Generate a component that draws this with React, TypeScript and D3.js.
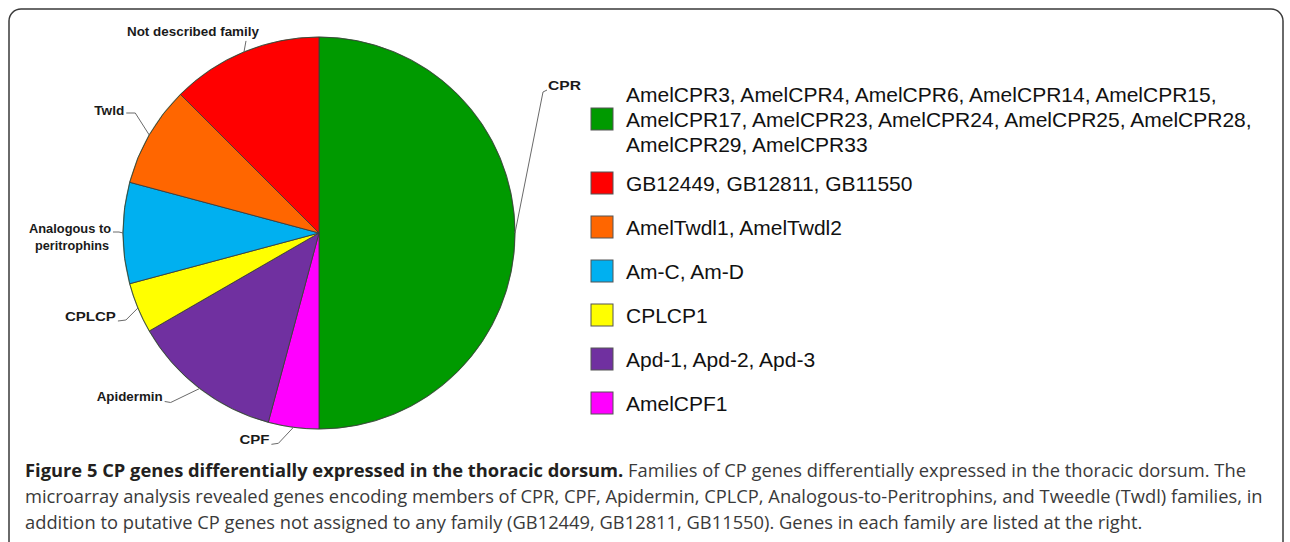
import React, { useLayoutEffect, useRef, useState } from "react";
import * as d3 from "d3";

// ---- data ----
const pieFamilies = ["CPR", "CPF", "Apidermin", "CPLCP", "Analogous to peritrophins", "Twld", "Not described family"];
const pieCounts = [12, 1, 3, 1, 2, 2, 3];
const pieColors = ["#009a00", "#ff00ff", "#7030a0", "#ffff00", "#00b0f0", "#ff6600", "#ff0000"];

const legendGenes = [
  ["AmelCPR3, AmelCPR4, AmelCPR6, AmelCPR14, AmelCPR15,", "AmelCPR17, AmelCPR23, AmelCPR24, AmelCPR25, AmelCPR28,", "AmelCPR29, AmelCPR33"],
  ["GB12449, GB12811, GB11550"],
  ["AmelTwdl1, AmelTwdl2"],
  ["Am-C, Am-D"],
  ["CPLCP1"],
  ["Apd-1, Apd-2, Apd-3"],
  ["AmelCPF1"],
];
const legendColors = ["#009a00", "#ff0000", "#ff6600", "#00b0f0", "#ffff00", "#7030a0", "#ff00ff"];

const captionBold = "Figure 5 CP genes differentially expressed in the thoracic dorsum.";
const captionLines = [
  " Families of CP genes differentially expressed in the thoracic dorsum. The",
  "microarray analysis revealed genes encoding members of CPR, CPF, Apidermin, CPLCP, Analogous-to-Peritrophins, and Tweedle (Twdl) families, in",
  "addition to putative CP genes not assigned to any family (GB12449, GB12811, GB11550). Genes in each family are listed at the right.",
];

// ---- layout (not data) ----
const W = 1290, H = 542;
const cx = 319, cy = 233, R = 196;
const labelLayout: Record<string, any> = {
  "CPR": { elbow: [28, -141], tick: [32, -143], text: [33, -143], anchor: "start", w: 33 },
  "Not described family": { elbow: [2, -11], tick: [2, -11], text: [-51, -16], anchor: "middle", w: 132 },
  "Twld": { elbow: [-14, -22], tick: [-23, -22], text: [-25, -20], anchor: "end", w: 30 },
  "Analogous to peritrophins": { elbow: [-4, -1], tick: [-10, -1], text: [-12, 0], anchor: "end", w: 82 },
  "CPLCP": { elbow: [-12, 12], tick: [-20, 13], text: [-22, 13], anchor: "end", w: 51 },
  "Apidermin": { elbow: [-29, 14], tick: [-35, 13], text: [-37, 13], anchor: "end", w: 66 },
  "CPF": { elbow: [-15, 16], tick: [-22, 17], text: [-24, 17], anchor: "end", w: 30 },
};
const labelLines: Record<string, string[]> = {
  "Analogous to peritrophins": ["Analogous to", "peritrophins"],
};

const capFont = "'Open Sans', 'Noto Sans', sans-serif";
const capX = 25, capLine2Width = 1238;

export default function App() {
  const measureRef = useRef<SVGTextElement>(null);
  const [k, setK] = useState(1);
  useLayoutEffect(() => {
    if (measureRef.current) {
      const len = measureRef.current.getComputedTextLength();
      if (len > 0) setK(capLine2Width / len);
    }
  }, []);

  const pie = d3.pie<number>().sort(null).value((d) => d);
  const arcs = pie(pieCounts);
  const arcGen = d3.arc<d3.PieArcDatum<number>>().innerRadius(0).outerRadius(R);

  const legendX = 591, boxSize = 22, textX = 626;
  const entryY = d3.scaleLinear().domain([1, 6]).range([183, 403]);
  const lineH = 25;
  const capY = [477, 503, 529];

  return (
    <svg width={W} height={H} style={{ position: "absolute", left: 0, top: 0, background: "#fff" }}>
      <rect x={9} y={9} width={1274} height={580} rx={12} ry={12} fill="none" stroke="#3a3a3a" strokeWidth={1.5} />
      <g transform={`translate(${cx},${cy})`}>
        {arcs.map((a, i) => (
          <path key={i} d={arcGen(a) || ""} fill={pieColors[i]} stroke="#3d3d3d" strokeWidth={0.9} />
        ))}
        <circle r={R} fill="none" stroke="#2a5a2a" strokeOpacity={0.35} strokeWidth={1.2} />
      </g>
      {arcs.map((a, i) => {
        const name = pieFamilies[i];
        const L = labelLayout[name];
        const mid = (a.startAngle + a.endAngle) / 2;
        const ax = cx + R * Math.sin(mid);
        const ay = cy - R * Math.cos(mid);
        const pts = [
          [ax, ay],
          [ax + L.elbow[0], ay + L.elbow[1]],
          [ax + L.tick[0], ay + L.tick[1]],
        ];
        const lines = labelLines[name] || [name];
        return (
          <g key={name}>
            <polyline points={pts.map((p) => p.join(",")).join(" ")} fill="none" stroke="#6a6a6a" strokeWidth={1} />
            {lines.map((ln, j) => (
              <text
                key={j}
                x={ax + L.text[0] - (j > 0 ? 2 : 0)}
                y={ay + L.text[1] + j * 17}
                textAnchor={L.anchor}
                fontFamily="'Liberation Sans', Arial, sans-serif"
                fontWeight="bold"
                fontSize={13}
                fill="#1a1a1a"
                textLength={j > 0 ? 74 : L.w}
                lengthAdjust="spacingAndGlyphs"
              >
                {ln}
              </text>
            ))}
          </g>
        );
      })}
      {legendGenes.map((lines, i) => {
        const cyE = i === 0 ? 119 : entryY(i);
        const firstBase = cyE + 8 - ((lines.length - 1) * lineH) / 2;
        return (
          <g key={i}>
            <rect x={legendX} y={cyE - boxSize / 2} width={boxSize} height={boxSize} fill={legendColors[i]} stroke="#555" strokeWidth={1} />
            {lines.map((ln, j) => (
              <text key={j} x={textX} y={firstBase + j * lineH} fontFamily="'Liberation Sans', Arial, sans-serif" fontSize={21} fill="#111">
                {ln}
              </text>
            ))}
          </g>
        );
      })}
      <g transform={`translate(${capX},0) scale(${k},1)`}>
        <text x={0} y={capY[0]} fontFamily={capFont} fontSize={18} fill="#3a3a3a">
          <tspan fontWeight="bold" fill="#231f20">{captionBold}</tspan>
          <tspan>{captionLines[0]}</tspan>
        </text>
        <text ref={measureRef} x={0} y={capY[1]} fontFamily={capFont} fontSize={18} fill="#3a3a3a">
          {captionLines[1]}
        </text>
        <text x={0} y={capY[2]} fontFamily={capFont} fontSize={18} fill="#3a3a3a">
          {captionLines[2]}
        </text>
      </g>
    </svg>
  );
}
